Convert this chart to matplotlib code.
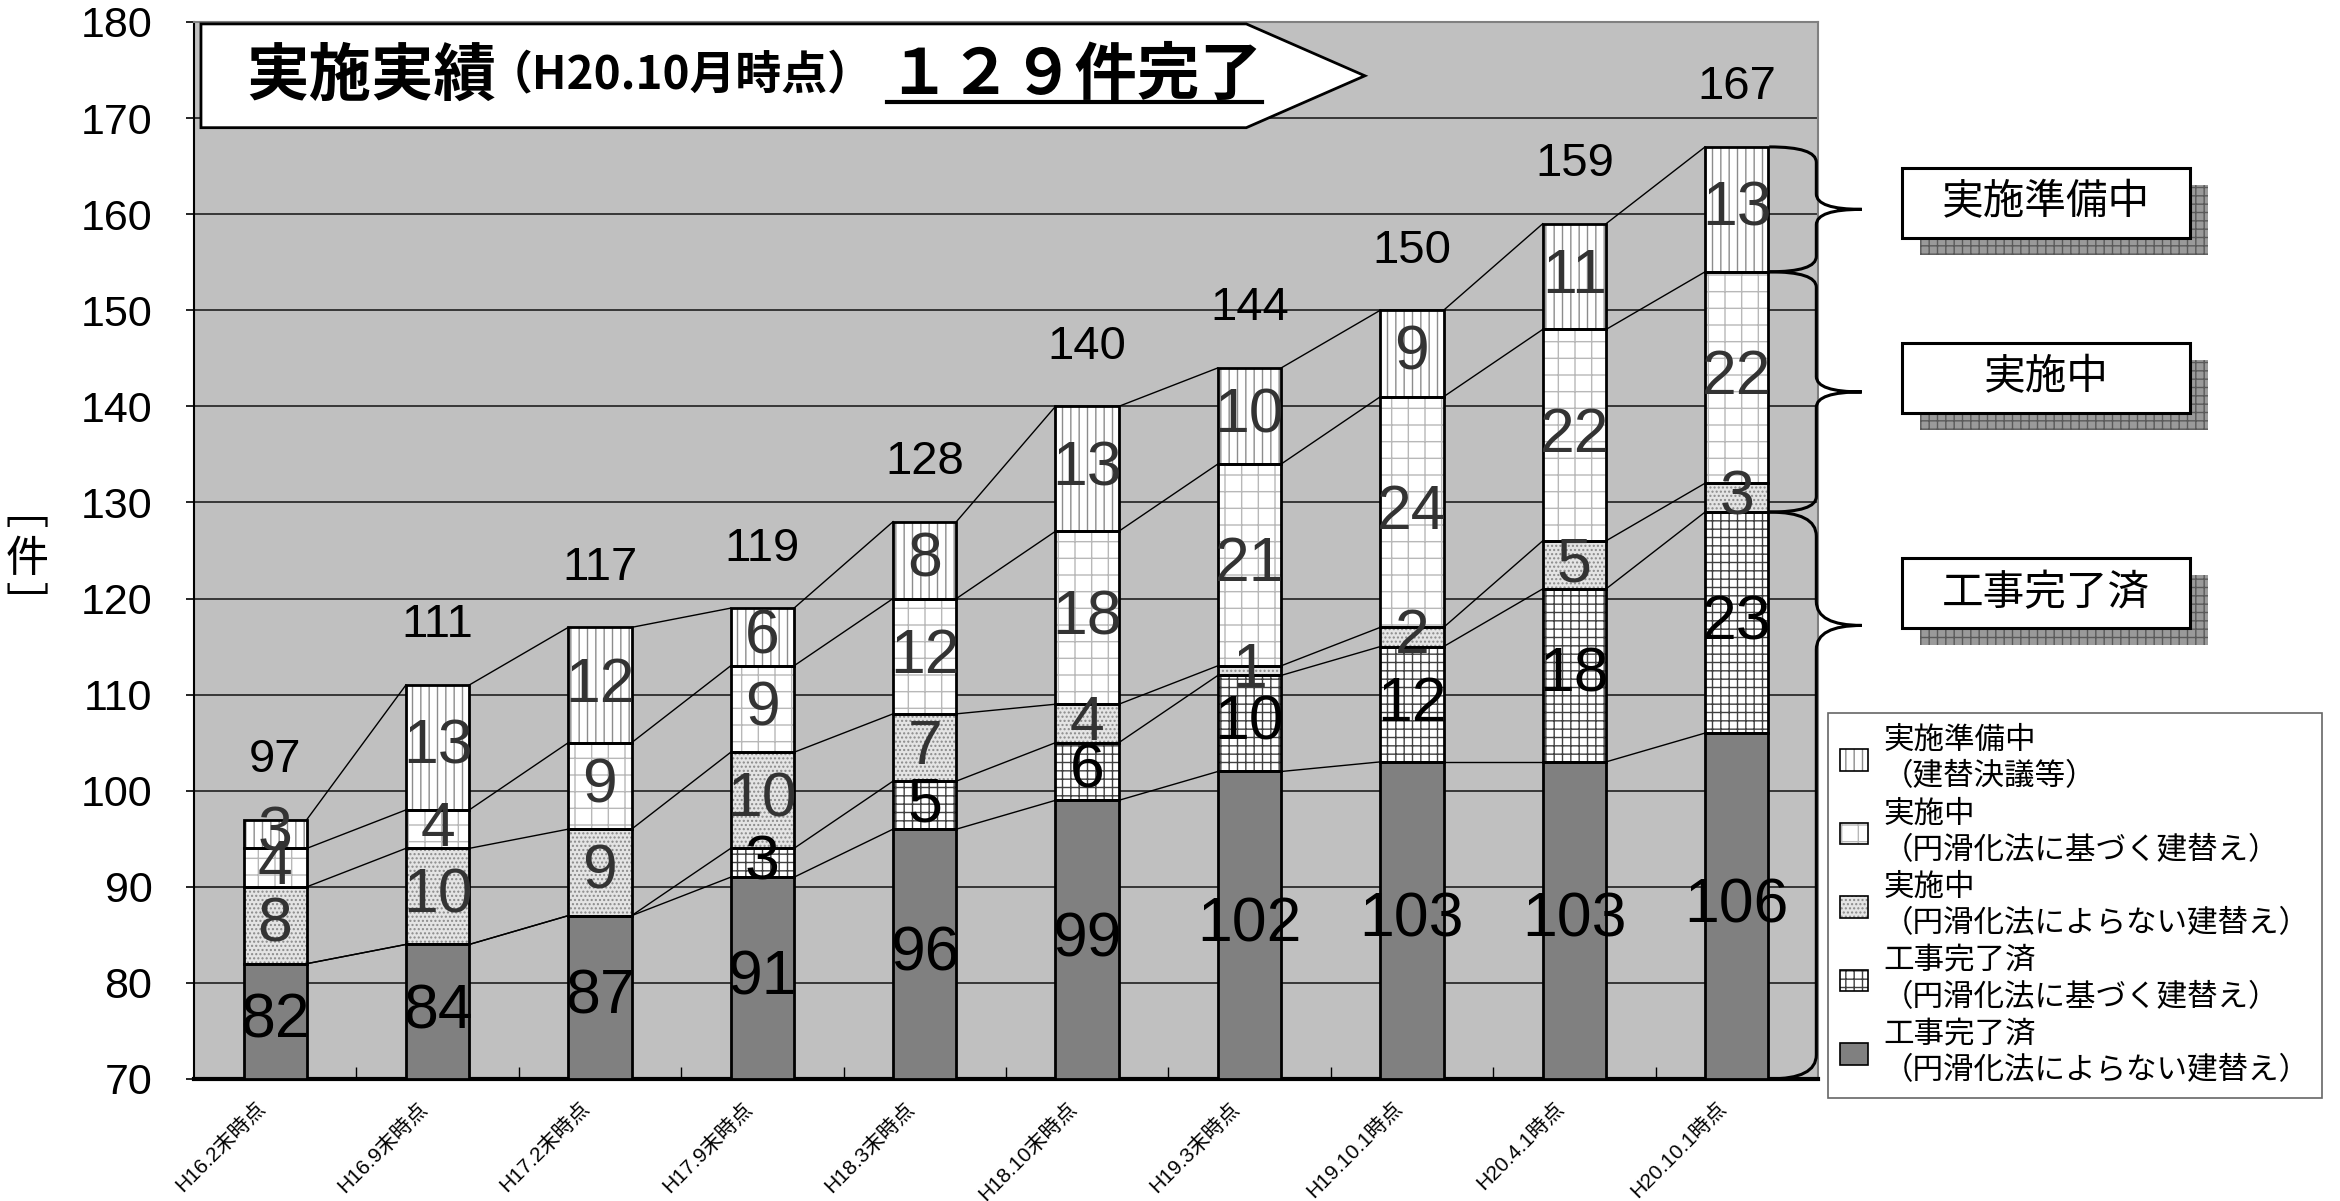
import numpy as np
import matplotlib.pyplot as plt
from matplotlib.patches import Polygon, Rectangle, PathPatch, Patch
from matplotlib.path import Path
from matplotlib.transforms import ScaledTranslation

plt.rcParams['font.family'] = ['Liberation Sans', 'Noto Sans CJK JP', 'DejaVu Sans']
plt.rcParams['hatch.linewidth'] = 1.0

# data
periods = ['H16.2末時点', 'H16.9末時点', 'H17.2末時点', 'H17.9末時点', 'H18.3末時点',
           'H18.10末時点', 'H19.3末時点', 'H19.10.1時点', 'H20.4.1時点', 'H20.10.1時点']
done_other = [82, 84, 87, 91, 96, 99, 102, 103, 103, 106]   # 工事完了済（円滑化法によらない）
done_law = [0, 0, 0, 3, 5, 6, 10, 12, 18, 23]               # 工事完了済（円滑化法に基づく）
doing_other = [8, 10, 9, 10, 7, 4, 1, 2, 5, 3]              # 実施中（円滑化法によらない）
doing_law = [4, 4, 9, 9, 12, 18, 21, 24, 22, 22]            # 実施中（円滑化法に基づく）
preparing = [3, 13, 12, 6, 8, 13, 10, 9, 11, 13]            # 実施準備中

legend_labels = ['工事完了済\n（円滑化法によらない建替え）',
                 '工事完了済\n（円滑化法に基づく建替え）',
                 '実施中\n（円滑化法によらない建替え）',
                 '実施中\n（円滑化法に基づく建替え）',
                 '実施準備中\n（建替決議等）']
group_labels = ['実施準備中', '実施中', '工事完了済']

series = [done_other, done_law, doing_other, doing_law, preparing]
# (facecolor, hatch, hatch colour, label colour)
styles = [('#808080', None, '#808080', 'black'),
          ('white', '++', '#404040', 'black'),
          ('#E4E4E4', '....', '#8A8A8A', '#333333'),
          ('white', '+', '#B8B8B8', '#333333'),
          ('white', '||', '#8C8C8C', '#333333')]

YMIN = 70
x = np.arange(len(periods))
w = 0.39

fig = plt.figure(figsize=(23.4, 12.01), dpi=100)
ax = fig.add_axes([0.0829, 0.1016, 0.6940, 0.8801])
ax.set_facecolor('#C0C0C0')
ax.set_xlim(-0.5, 9.5)
ax.set_ylim(70, 180)
ax.set_yticks(range(70, 181, 10))
ax.yaxis.grid(True, color='#202020', lw=1.2)
ax.set_axisbelow(True)

bottoms = np.zeros(len(x))
levels = []
for vals, (fc, hatch, hc, tc) in zip(series, styles):
    vals = np.array(vals, dtype=float)
    base = np.maximum(bottoms, YMIN)
    heights = bottoms + vals - base
    ax.bar(x, heights, w, bottom=base, color=fc, hatch=hatch, edgecolor=hc, lw=0, zorder=3)
    ax.bar(x, heights, w, bottom=base, fill=False, edgecolor='black', lw=2, zorder=4)
    for xi, b, h, v in zip(x, base, heights, vals):
        if v > 0:
            ax.text(xi, b + h / 2, f'{int(v)}', ha='center', va='center',
                    fontsize=45, color=tc, zorder=6)
    bottoms = bottoms + vals
    levels.append(bottoms.copy())

# connectors between bars
for lev in levels:
    for i in range(len(x) - 1):
        ax.plot([x[i] + w / 2, x[i + 1] - w / 2], [lev[i], lev[i + 1]],
                color='black', lw=1, zorder=2)

totals = levels[-1]
for xi, t in zip(x, totals):
    ax.text(xi, t + 6.2, f'{int(t)}', ha='center', va='center', fontsize=34, zorder=6)

# axes cosmetics
for s in ['top', 'right']:
    ax.spines[s].set_color('#808080')
    ax.spines[s].set_linewidth(1.5)
ax.spines['left'].set_linewidth(1.5)
ax.spines['bottom'].set_linewidth(3)
ax.tick_params(axis='y', labelsize=31, length=6, width=1.2, pad=24)
ax.set_xticks(x)
ax.set_xticklabels(periods, rotation=45, ha='right', rotation_mode='anchor', fontsize=15)
ax.tick_params(axis='x', length=0, pad=14)
ax.set_xticks(x[:-1] + 0.5, minor=True)
ax.tick_params(axis='x', which='minor', direction='in', length=9, width=1)
for lab in ax.get_xticklabels():
    lab.set_transform(lab.get_transform() + ScaledTranslation(-0.2, 0, fig.dpi_scale_trans))

fig.text(0.0115, 0.534, '﹇\n件\n﹈', ha='center', va='center', fontsize=31,
         linespacing=1.1, family=['Noto Sans CJK JP'])

# title banner
banner = Polygon([(-0.457, 179.8), (5.98, 179.8), (6.71, 174.4), (5.98, 169.0), (-0.457, 169.0)],
                 closed=True, facecolor='white', edgecolor='black', lw=2, zorder=7)
ax.add_patch(banner)
ax.text(-0.18, 174.4, '実施実績', ha='left', va='center', fontsize=45,
        fontweight='bold', family=['Noto Sans CJK JP'], zorder=8)
ax.text(1.30, 174.4, '（H20.10月時点）', ha='left', va='center', fontsize=33,
        fontweight='bold', family=['Noto Sans CJK JP'], zorder=8)
t3 = ax.text(3.77, 174.4, '１２９件完了', ha='left', va='center', fontsize=45,
             fontweight='bold', family=['Noto Sans CJK JP'], zorder=8)

# braces on right of last bar
def brace(ytop, ybot, ytip, x0=9.2, xv=9.49, xt=9.77, r=1.6):
    verts = [(x0, ytop), (xv, ytop), (xv, ytop - r),
             (xv, ytip + r), (xv, ytip), (xt, ytip),
             (xv, ytip), (xv, ytip - r),
             (xv, ybot + r), (xv, ybot), (x0, ybot)]
    codes = [Path.MOVETO, Path.CURVE3, Path.CURVE3,
             Path.LINETO, Path.CURVE3, Path.CURVE3,
             Path.CURVE3, Path.CURVE3,
             Path.LINETO, Path.CURVE3, Path.CURVE3]
    ax.add_patch(PathPatch(Path(verts, codes), fill=False, lw=2.2, color='black',
                           clip_on=False, zorder=7))

brace(167, 154, 160.5)
brace(154, 129, 141.5)
brace(129, 70, 117.2, r=2.5)

# label boxes with shadow
for (y0, y1), lab in zip([(157.5, 164.8), (139.3, 146.6), (116.9, 124.2)], group_labels):
    ax.add_patch(Rectangle((10.13, y0 - 1.77), 1.77, y1 - y0, facecolor='#9A9A9A',
                           hatch='++', edgecolor='#5A5A5A', lw=0, clip_on=False, zorder=6))
    ax.add_patch(Rectangle((10.02, y0), 1.77, y1 - y0, facecolor='white',
                           edgecolor='black', lw=2.2, clip_on=False, zorder=7))
    ax.text(10.905, (y0 + y1) / 2, lab, ha='center', va='center', fontsize=30,
            family=['Noto Sans CJK JP'], clip_on=False, zorder=8)

# legend
handles = []
for fc, hatch, hc, tc in styles:
    handles.append((Patch(facecolor=fc, hatch=hatch, edgecolor=hc, lw=0),
                    Patch(fill=False, edgecolor='black', lw=1.2)))
leg = fig.legend(handles[::-1], legend_labels[::-1], loc='upper left',
                 bbox_to_anchor=(0.7812, 0.4063), borderaxespad=0, frameon=True,
                 fancybox=False, edgecolor='#404040', handlelength=0.9, handleheight=0.7,
                 labelspacing=0.22, borderpad=0.4, handletextpad=0.5,
                 prop={'family': ['Noto Sans CJK JP'], 'size': 22})
leg.get_frame().set_linewidth(1.2)

# underline under the count
fig.canvas.draw()
bb = t3.get_window_extent().transformed(ax.transData.inverted())
ax.plot([bb.x0, bb.x1], [bb.y0 + 0.6, bb.y0 + 0.6], color='black', lw=3, zorder=8)

fig.savefig('out.png', dpi=100)
